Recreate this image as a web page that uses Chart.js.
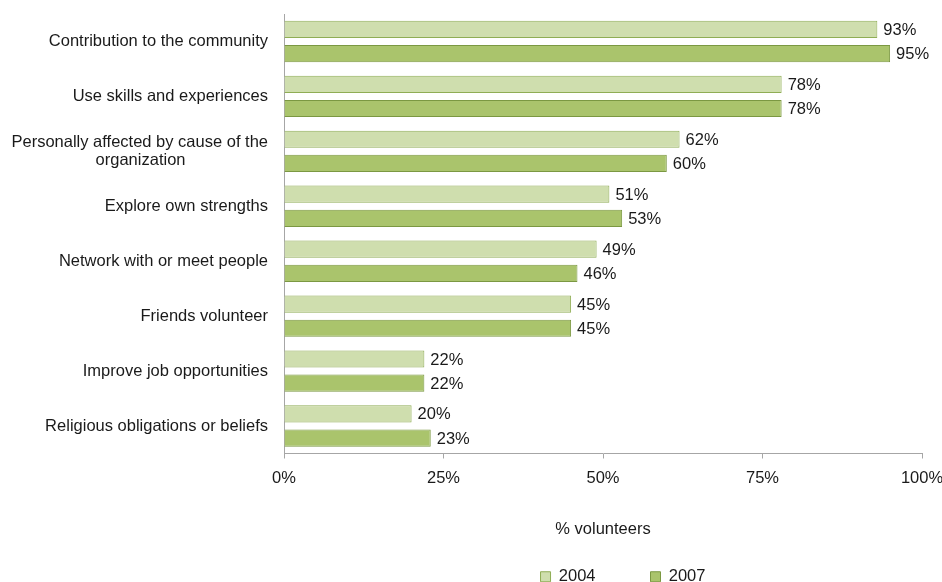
<!DOCTYPE html>
<html>
<head>
<meta charset="utf-8">
<script src="https://cdn.jsdelivr.net/npm/chart.js@4.4.1/dist/chart.umd.min.js"></script>
<style>
  html, body { margin: 0; padding: 0; background: #fff; }
  #wrap { width: 942px; height: 582px; }
</style>
</head>
<body>
<div id="wrap"><canvas id="reasons" width="942" height="582"></canvas></div>
<script>
// Reasons for volunteering, share of volunteers
const reasons = [
  'Contribution to the community',
  'Use skills and experiences',
  ['Personally affected by cause of the', 'organization                  '],
  'Explore own strengths',
  'Network with or meet people',
  'Friends volunteer',
  'Improve job opportunities',
  'Religious obligations or beliefs',
];
const share2004 = [93, 78, 62, 51, 49, 45, 22, 20];
const share2007 = [95, 78, 60, 53, 46, 45, 22, 23];
const pctTicks = [0, 25, 50, 75, 100];

const FONT = 'Arial, "Liberation Sans", sans-serif';
const SIZE = 16.5;
const INK = '#1a1a1a';
const AXIS = '#a6a6a6';

// value labels to the right of every bar
const barValues = {
  id: 'barValues',
  afterDatasetsDraw(chart) {
    const ctx = chart.ctx;
    ctx.save();
    ctx.font = SIZE + 'px ' + FONT;
    ctx.fillStyle = INK;
    ctx.textAlign = 'left';
    ctx.textBaseline = 'middle';
    chart.data.datasets.forEach((ds, i) => {
      chart.getDatasetMeta(i).data.forEach((bar, j) => {
        ctx.fillText(ds.data[j] + '%', bar.x + 6, bar.y + 1);
      });
    });
    ctx.restore();
  }
};

// legend sits a little right of the plot centre and near the bottom edge
const legendNudge = {
  id: 'legendNudge',
  beforeDraw(chart) {
    const lg = chart.legend;
    if (lg && !lg._nudged) {
      lg.left += 20;
      lg.right += 20;
      lg.top += 13;
      lg.bottom += 13;
      lg._nudged = true;
    }
  }
};

const ctx = document.getElementById('reasons').getContext('2d');
const reasonsChart = new Chart(ctx, {
  type: 'bar',
  data: {
    labels: reasons,
    datasets: [
      {
        label: '2004',
        data: share2004,
        backgroundColor: '#cfdeae',
        borderColor: '#8fad55',
        borderWidth: 1,
      },
      {
        label: '2007',
        data: share2007,
        backgroundColor: '#aac46c',
        borderColor: '#7b9842',
        borderWidth: 1,
      },
    ],
  },
  options: {
    indexAxis: 'y',
    responsive: false,
    animation: false,
    categoryPercentage: 0.88,
    barPercentage: 0.71,
    layout: { padding: { top: 14, right: 20, left: 0, bottom: 0 } },
    scales: {
      x: {
        min: 0,
        max: 100,
        afterBuildTicks(scale) {
          scale.ticks = pctTicks.map(v => ({ value: v }));
        },
        afterFit(scale) {
          scale.height = 102;
          scale.paddingLeft = 0;
          scale.paddingRight = 0;
        },
        grid: { drawOnChartArea: false, drawTicks: true, tickLength: 5, color: AXIS },
        border: { color: AXIS },
        ticks: {
          padding: 10,
          color: INK,
          font: { family: FONT, size: SIZE },
          callback: v => v + '%',
        },
        title: {
          display: true,
          text: '% volunteers',
          color: INK,
          font: { family: FONT, size: SIZE },
          padding: { top: 0, bottom: 16 },
        },
      },
      y: {
        afterFit(scale) {
          scale.width = 284;
          scale.paddingTop = 0;
          scale.paddingBottom = 0;
        },
        grid: { drawOnChartArea: false, drawTicks: false },
        border: { color: AXIS },
        ticks: {
          padding: 16,
          color: INK,
          autoSkip: false,
          font: { family: FONT, size: SIZE, lineHeight: 1.1 },
        },
      },
    },
    plugins: {
      tooltip: { enabled: false },
      legend: {
        position: 'bottom',
        fullSize: false,
        labels: {
          boxWidth: 10,
          boxHeight: 10,
          padding: 0,
          color: INK,
          font: { family: FONT, size: SIZE },
          generateLabels(chart) {
            const items = Chart.defaults.plugins.legend.labels.generateLabels(chart);
            items[0].text = items[0].text + '            ';
            return items;
          },
        },
      },
    },
  },
  plugins: [barValues, legendNudge],
});
</script>
</body>
</html>
